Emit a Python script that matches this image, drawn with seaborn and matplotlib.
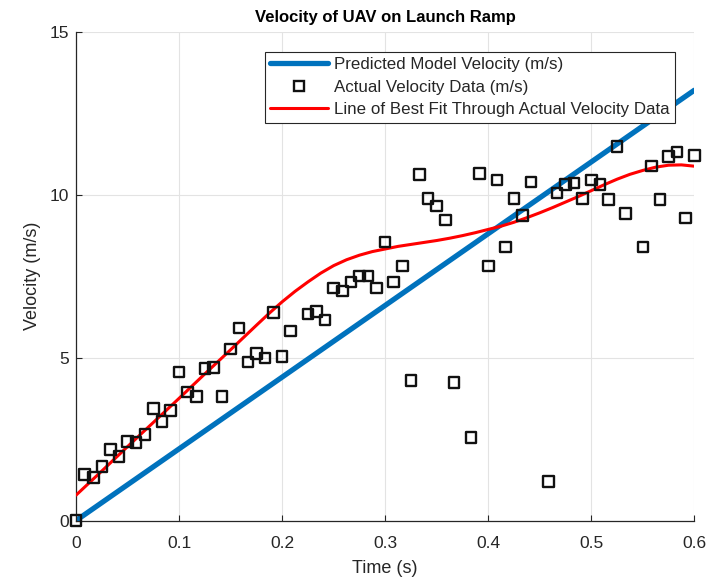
import matplotlib
matplotlib.use("Agg")
import matplotlib.pyplot as plt
import seaborn as sns
import pandas as pd
from matplotlib.lines import Line2D

# ---- data ----
time_s = [0.0, 0.0083, 0.0167, 0.025, 0.0333, 0.0417, 0.05, 0.0583, 0.0667, 0.075,
          0.0833, 0.0917, 0.1, 0.1083, 0.1167, 0.125, 0.1333, 0.1417, 0.15, 0.1583,
          0.1667, 0.175, 0.1833, 0.1917, 0.2, 0.2083, 0.225, 0.2333, 0.2417, 0.25,
          0.2583, 0.2667, 0.275, 0.2833, 0.2917, 0.3, 0.3083, 0.3167, 0.325, 0.3333,
          0.3417, 0.35, 0.3583, 0.3667, 0.3833, 0.3917, 0.4, 0.4083, 0.4167, 0.425,
          0.4333, 0.4417, 0.4583, 0.4667, 0.475, 0.4833, 0.4917, 0.5, 0.5083, 0.5167,
          0.525, 0.5333, 0.55, 0.5583, 0.5667, 0.575, 0.5833, 0.5917, 0.6]
actual_velocity = [0.0, 1.41, 1.32, 1.66, 2.18, 1.97, 2.43, 2.40, 2.64, 3.44,
                   3.04, 3.38, 4.55, 3.94, 3.81, 4.67, 4.70, 3.81, 5.26, 5.90,
                   4.86, 5.13, 4.98, 6.39, 5.04, 5.81, 6.33, 6.42, 6.15, 7.13,
                   7.04, 7.32, 7.50, 7.50, 7.13, 8.55, 7.32, 7.81, 4.30, 10.61,
                   9.87, 9.65, 9.22, 4.24, 2.55, 10.64, 7.81, 10.45, 8.39, 9.87,
                   9.35, 10.39, 1.20, 10.05, 10.30, 10.36, 9.87, 10.45, 10.30, 9.84,
                   11.47, 9.41, 8.39, 10.88, 9.84, 11.16, 11.31, 9.28, 11.19]

model_time = [0.0, 0.6]
model_velocity = [0.0, 13.2]

fit_time = [0.0, 0.025, 0.05, 0.075, 0.1, 0.125, 0.15, 0.175, 0.1875, 0.2, 0.2125,
            0.225, 0.2375, 0.25, 0.2625, 0.275, 0.2875, 0.3, 0.3125, 0.325, 0.3375,
            0.35, 0.3625, 0.375, 0.3875, 0.4, 0.4125, 0.425, 0.4375, 0.45, 0.4625,
            0.475, 0.4875, 0.5, 0.5125, 0.525, 0.5375, 0.55, 0.5625, 0.575, 0.5875,
            0.6]
fit_velocity = [0.78, 1.52, 2.27, 3.01, 3.75, 4.50, 5.24, 5.99, 6.36, 6.71, 7.03,
                7.32, 7.59, 7.82, 8.00, 8.14, 8.25, 8.33, 8.41, 8.47, 8.53,
                8.59, 8.66, 8.74, 8.83, 8.93, 9.03, 9.15, 9.29, 9.44, 9.60,
                9.77, 9.94, 10.12, 10.30, 10.47, 10.62, 10.74, 10.84, 10.90, 10.91,
                10.87]

x_ticks = [0, 0.1, 0.2, 0.3, 0.4, 0.5, 0.6]
y_ticks = [0, 5, 10, 15]

labels = ["Predicted Model Velocity (m/s)",
          "Actual Velocity Data (m/s)",
          "Line of Best Fit Through Actual Velocity Data"]

# ---- plotting ----
sns.set_style("whitegrid")
plt.rcParams['font.family'] = ['Liberation Sans', 'DejaVu Sans']

fig = plt.figure(figsize=(7.18, 5.79), dpi=100)
ax = fig.add_axes([0.106, 0.101, 0.861, 0.8445])

blue = "#0072BD"
red = "#FF0000"

df_model = pd.DataFrame({"t": model_time, "v": model_velocity})
df_act = pd.DataFrame({"t": time_s, "v": actual_velocity})
df_fit = pd.DataFrame({"t": fit_time, "v": fit_velocity})

sns.lineplot(data=df_model, x="t", y="v", ax=ax, color=blue, linewidth=3.8,
             zorder=2, sort=False)
sns.lineplot(data=df_fit, x="t", y="v", ax=ax, color=red, linewidth=2.2,
             zorder=3, sort=False)
sns.scatterplot(data=df_act, x="t", y="v", ax=ax, marker="s", s=58,
                facecolor="none", edgecolor="#111111", linewidth=1.7, zorder=4,
                clip_on=False)

ax.set_xlim(0, 0.6)
ax.set_ylim(0, 15)
ax.set_xticks(x_ticks)
ax.set_xticklabels([("%g" % t) for t in x_ticks])
ax.set_yticks(y_ticks)

ax.grid(True, color="#e3e3e3", linewidth=0.8)
for side in ["top", "right"]:
    ax.spines[side].set_visible(False)
for side in ["left", "bottom"]:
    ax.spines[side].set_visible(True)
    ax.spines[side].set_color("#262626")
    ax.spines[side].set_linewidth(0.9)

ax.tick_params(axis="both", direction="in", length=4, width=0.8,
               colors="#262626", labelsize=12.5, left=True, bottom=True)
ax.tick_params(axis="x", pad=11.5)
ax.tick_params(axis="y", pad=5)

ax.set_xlabel("Time (s)", fontsize=13, color="#262626", labelpad=6)
ax.set_ylabel("Velocity (m/s)", fontsize=13, color="#262626", labelpad=6.5)
ax.set_title("Velocity of UAV on Launch Ramp", fontsize=12, fontweight="bold",
             color="black", pad=7)

handles = [
    Line2D([], [], color=blue, linewidth=3.8),
    Line2D([], [], linestyle="none", marker="s", markersize=7.5,
           markerfacecolor="none", markeredgecolor="#111111", markeredgewidth=1.7),
    Line2D([], [], color=red, linewidth=2.2),
]
leg = ax.legend(handles, labels, loc="upper right", bbox_to_anchor=(0.968, 0.958),
                fontsize=12.2, frameon=True, fancybox=False, framealpha=1,
                edgecolor="#262626", borderpad=0.3, handlelength=3.4,
                labelspacing=0.45, handletextpad=0.35, borderaxespad=0.0)
leg.get_frame().set_linewidth(0.8)
for t in leg.get_texts():
    t.set_color("#262626")

fig.savefig("out.png", dpi=100)
